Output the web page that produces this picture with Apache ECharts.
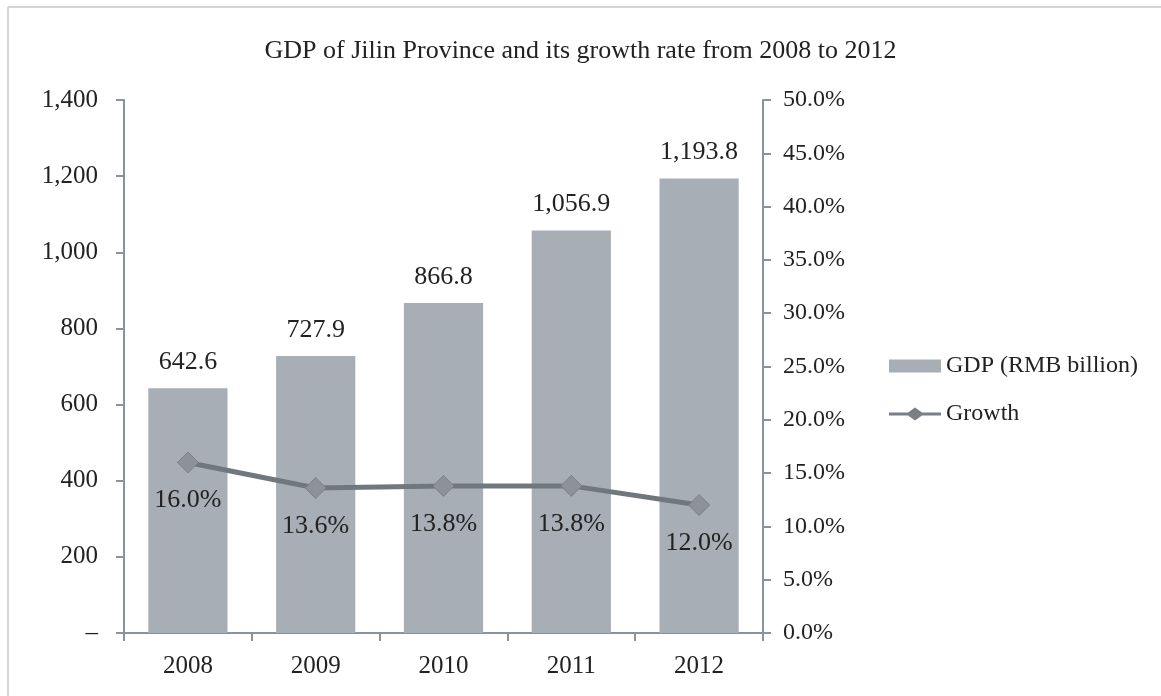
<!DOCTYPE html>
<html>
<head>
<meta charset="utf-8">
<script src="https://cdn.jsdelivr.net/npm/echarts@6/dist/echarts.min.js"></script>
<style>
html,body{margin:0;padding:0;background:#fff;}
#chart{width:1161px;height:696px;}
</style>
</head>
<body>
<div id="chart"></div>
<script>
var titleText = 'GDP of Jilin Province and its growth rate from 2008 to 2012';
var categories = ['2008', '2009', '2010', '2011', '2012'];
var gdpName = 'GDP (RMB billion)';
var gdpValues = [642.6, 727.9, 866.8, 1056.9, 1193.8];
var growthName = 'Growth';
var growthValues = [16.0, 13.6, 13.8, 13.8, 12.0];

var FONT = '"Liberation Serif", "Times New Roman", serif';
var axisColor = '#8b939a';
var chart = echarts.init(document.getElementById('chart'));
chart.setOption({
  backgroundColor: '#fff',
  animation: false,
  textStyle: { fontFamily: FONT },
  title: {
    text: titleText, left: 'center', top: 33,
    textStyle: { fontFamily: FONT, fontSize: 26, fontWeight: 'normal', color: '#222' }
  },
  graphic: [
    { type: 'line', shape: { x1: 8, y1: 7, x2: 1161, y2: 7 }, style: { stroke: '#d4d4d4', lineWidth: 2 } },
    { type: 'line', shape: { x1: 8, y1: 7, x2: 8, y2: 696 }, style: { stroke: '#d4d4d4', lineWidth: 2 } }
  ],
  legend: {
    orient: 'vertical', left: 884, top: 349, itemGap: 24,
    itemWidth: 52, itemHeight: 13,
    textStyle: { fontFamily: FONT, fontSize: 24, color: '#222' },
    data: [
      { name: gdpName, icon: 'rect' },
      { name: growthName,
        icon: 'path://M0,5 L19,5 L26,0 L33,5 L52,5 L52,8 L33,8 L26,13 L19,8 L0,8 Z',
        itemStyle: { color: '#787f85', borderWidth: 0 } }
    ]
  },
  grid: { left: 124, right: 398, top: 100, bottom: 63 },
  xAxis: [{
    type: 'category', data: categories, position: 'bottom',
    axisLine: { lineStyle: { color: axisColor, width: 2 } },
    axisTick: { show: true, length: 8, lineStyle: { color: axisColor, width: 2 } },
    axisLabel: { fontFamily: FONT, fontSize: 25, color: '#222', margin: 21 }
  }, {
    type: 'category', data: categories, position: 'top',
    axisLine: { lineStyle: { color: axisColor, width: 2 } },
    axisTick: { show: false }, axisLabel: { show: false }
  }],
  yAxis: [{
    type: 'value', min: 0, max: 1400, interval: 200, position: 'left',
    axisLine: { show: true, lineStyle: { color: axisColor, width: 2 } },
    axisTick: { show: true, length: 8, lineStyle: { color: axisColor, width: 2 } },
    splitLine: { show: false },
    axisLabel: {
      fontFamily: FONT, fontSize: 25, color: '#222', margin: 26,
      formatter: function (v) { return v === 0 ? '\u2013' : v.toLocaleString('en-US'); }
    }
  }, {
    type: 'value', min: 0, max: 50, interval: 5, position: 'right',
    axisLine: { show: true, lineStyle: { color: axisColor, width: 2 } },
    axisTick: { show: true, length: 8, lineStyle: { color: axisColor, width: 2 } },
    splitLine: { show: false },
    axisLabel: {
      fontFamily: FONT, fontSize: 24, color: '#222', margin: 20,
      formatter: function (v) { return v.toFixed(1) + '%'; }
    }
  }],
  series: [{
    name: gdpName, type: 'bar', data: gdpValues, barWidth: '62%',
    itemStyle: { color: '#a8aeb5' },
    label: {
      show: true, position: 'top', distance: 13,
      fontFamily: FONT, fontSize: 26, color: '#222',
      formatter: function (p) { return p.value.toLocaleString('en-US', { minimumFractionDigits: 1, maximumFractionDigits: 1 }); }
    }
  }, {
    name: growthName, type: 'line', yAxisIndex: 1, data: growthValues,
    symbol: 'diamond', symbolSize: 21,
    lineStyle: { color: '#70787e', width: 5 },
    itemStyle: { color: '#8c9298', borderColor: '#7a8187', borderWidth: 1 },
    label: {
      show: true, position: 'bottom', distance: 14,
      fontFamily: FONT, fontSize: 26, color: '#222',
      formatter: function (p) { return p.value.toFixed(1) + '%'; }
    }
  }]
});
</script>
</body>
</html>
